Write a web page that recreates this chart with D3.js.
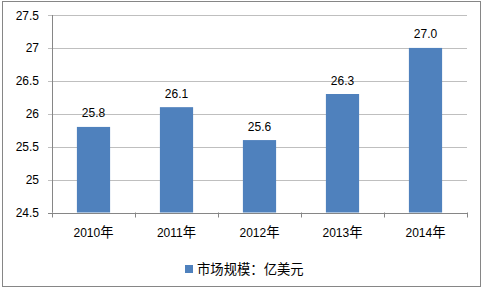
<!DOCTYPE html>
<html><head><meta charset="utf-8">
<script src="https://cdn.jsdelivr.net/npm/d3@7"></script>
<style>body{margin:0;background:#fff}svg{display:block}text{font-family:"Liberation Sans","Noto Sans CJK SC",sans-serif;fill:#000}</style>
</head><body>
<script>
const categories = ["2010年","2011年","2012年","2013年","2014年"];
const values = [25.8, 26.1, 25.6, 26.3, 27.0];
const yTicks = [24.5, 25, 25.5, 26, 26.5, 27, 27.5];
const seriesName = "市场规模：亿美元";

(function(){
const W = 484, H = 290;
const svg = d3.select("body").append("svg").attr("width", W).attr("height", H);
svg.append("rect").attr("x", 2.5).attr("y", 1.5).attr("width", 478).attr("height", 285)
  .attr("fill", "#fff").attr("stroke", "#868686");

const pL = 52, pR = 467, pT = 15, pB = 212.5;
const x = d3.scaleBand().domain(categories).range([pL, pR]).paddingInner(0.6).paddingOuter(0.3);
const y = d3.scaleLinear().domain([24.5, 27.5]).range([pB, pT]);

// split text into latin / CJK runs with different sizes
function mixed(sel, latinSize, cjkSize) {
  sel.each(function(d) {
    const s = String(typeof d === "number" ? d : d);
    const runs = s.match(/[\u3000-\u9fff\uff00-\uffef]+|[^\u3000-\u9fff\uff00-\uffef]+/g) || [];
    const t = d3.select(this);
    runs.forEach(r => {
      const cjk = /[\u3000-\u9fff\uff00-\uffef]/.test(r);
      t.append("tspan").attr("font-size", cjk ? cjkSize : latinSize).text(r);
    });
  });
}

svg.append("g").selectAll("line").data(yTicks).join("line")
  .attr("x1", pL - 4).attr("x2", pR).attr("y1", d => Math.round(y(d)) + 0.5).attr("y2", d => Math.round(y(d)) + 0.5)
  .attr("stroke", d => d === 24.5 ? "#868686" : "#BFBFBF");

svg.append("g").selectAll("text").data(yTicks).join("text")
  .attr("x", 39).attr("y", d => y(d) + 4.5).attr("text-anchor", "end").attr("font-size", 12)
  .text(d => d3.format("")(d));

svg.append("line").attr("x1", pL + 0.5).attr("x2", pL + 0.5).attr("y1", pT).attr("y2", pB).attr("stroke", "#868686");

const xb = d3.scaleLinear().domain([0, categories.length]).range([pL, pR]);
svg.append("g").selectAll("line").data(d3.range(categories.length + 1)).join("line")
  .attr("x1", d => Math.round(xb(d)) + 0.5).attr("x2", d => Math.round(xb(d)) + 0.5)
  .attr("y1", pB).attr("y2", pB + 5).attr("stroke", "#868686");

svg.append("g").selectAll("rect").data(values).join("rect")
  .attr("x", (d, i) => x(categories[i])).attr("width", x.bandwidth())
  .attr("y", d => y(d)).attr("height", d => y(24.5) - y(d))
  .attr("fill", "#4F81BD");

svg.append("g").selectAll("text").data(values).join("text")
  .attr("x", (d, i) => x(categories[i]) + x.bandwidth() / 2).attr("y", d => y(d) - 9.5)
  .attr("text-anchor", "middle").attr("font-size", 12).text(d => d.toFixed(1));

svg.append("g").selectAll("text").data(categories).join("text")
  .attr("x", d => x(d) + x.bandwidth() / 2).attr("y", 237)
  .attr("text-anchor", "middle").call(mixed, 12, 13.33);

svg.append("rect").attr("x", 185).attr("y", 265).attr("width", 8).attr("height", 8).attr("fill", "#4F81BD");
svg.append("text").datum(seriesName).attr("x", 197).attr("y", 274).call(mixed, 12, 13.33);
})();
</script>
</body></html>
